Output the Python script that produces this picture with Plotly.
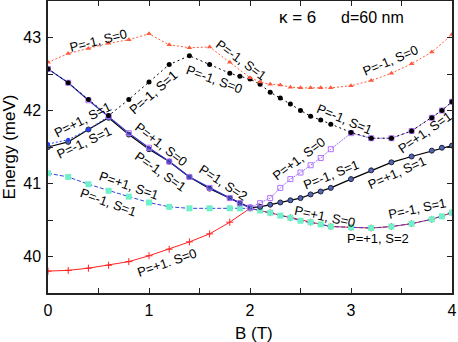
import plotly.graph_objects as go

# B field (T) and energies (meV)
x_red_top = [0, 0.2, 0.4, 0.6, 0.8, 1.0, 1.2, 1.4, 1.6, 1.8, 2.0, 2.1, 2.2, 2.3, 2.4, 2.5,
             2.6, 2.7, 2.8, 3.0, 3.2, 3.4, 3.6, 3.8, 4.0]
y_red_top = [42.66, 42.78, 42.85, 42.92, 42.97, 43.05, 42.9, 42.86, 42.87, 42.66, 42.45, 42.39,
             42.36, 42.35, 42.32, 42.31, 42.31, 42.31, 42.31, 42.34, 42.41, 42.51, 42.64, 42.8, 43.04]

x_fine = [0, 0.2, 0.4, 0.6, 0.8, 1.0, 1.2, 1.4, 1.6, 1.8, 1.9, 2.0, 2.1, 2.2, 2.3, 2.4, 2.5,
          2.6, 2.7, 2.8, 3.0, 3.2, 3.4, 3.6, 3.8, 3.9, 4.0]
y_black_dot = [42.57, 42.38, 42.15, 41.93, 42.15, 42.39, 42.63, 42.75, 42.63, 42.51, 42.47, 42.43,
               42.36, 42.25, 42.17, 42.09, 42.0, 41.92, 41.87, 41.81, 41.7, 41.62, 41.62, 41.72,
               41.9, 42.0, 42.12]
y_black_solid = [41.5, 41.57, 41.74, 41.9, 41.67, 41.47, 41.3, 41.09, 40.93, 40.8, 40.73, 40.67,
                 40.68, 40.71, 40.74, 40.77, 40.8, 40.85, 40.89, 40.94, 41.06, 41.18, 41.29, 41.37,
                 41.45, 41.49, 41.52]
y_cyan = [41.14, 41.09, 40.99, 40.9, 40.82, 40.74, 40.68, 40.66, 40.66, 40.66, 40.66, 40.66,
          40.63, 40.6, 40.56, 40.53, 40.49, 40.47, 40.44, 40.41, 40.4, 40.39, 40.41, 40.45,
          40.51, 40.55, 40.6]

x_blue = [0, 0.2, 0.4, 0.6, 0.8, 1.0, 1.2, 1.4, 1.6, 1.8, 1.9, 2.0]
y_blue = [42.57, 42.38, 42.14, 41.92, 41.69, 41.49, 41.3, 41.09, 40.94, 40.8, 40.73, 40.67]

x_purple = [2.0, 2.1, 2.2, 2.3, 2.4, 2.5, 2.6, 2.7, 2.8, 3.0, 3.2, 3.4, 3.6, 3.8, 3.9, 4.0]
y_purple = [40.67, 40.73, 40.8, 40.94, 41.06, 41.15, 41.25, 41.35, 41.47, 41.69, 41.62, 41.62,
            41.72, 41.9, 42.0, 42.12]

x_blue_short = [0, 0.2, 0.4, 0.6]
y_blue_short = [41.54, 41.6, 41.74, 41.92]

x_red_low = [0, 0.2, 0.4, 0.6, 0.8, 1.0, 1.2, 1.4, 1.6, 1.8, 2.0, 2.2, 2.4, 2.6, 2.8, 3.0,
             3.2, 3.4, 3.6, 3.8, 4.0]
y_red_low = [39.8, 39.81, 39.84, 39.88, 39.93, 40.01, 40.1, 40.2, 40.31, 40.47, 40.66, 40.6,
             40.53, 40.47, 40.41, 40.4, 40.39, 40.41, 40.45, 40.51, 40.6]

# curve labels: text, B, E, angle
labels = [
    ("P=-1, S=0", 0.50, 42.96, -14),
    ("P=-1, S=1", 1.04, 42.25, -41),
    ("P=-1, S=0", 1.65, 42.42, 20),
    ("P=-1, S=1", 1.92, 42.69, 36),
    ("P=+1, S=1", 0.35, 41.87, -27),
    ("P=-1, S=1", 0.36, 41.56, -25),
    ("P=+1, S=0", 1.12, 41.53, 38),
    ("P=-1, S=1", 1.11, 41.16, 35),
    ("P=+1, S=1", 0.80, 40.97, 19),
    ("P=-1, S=1", 0.60, 40.74, 20),
    ("P=1, S=2", 1.73, 41.01, 33),
    ("P=+1, S=0", 2.49, 41.34, -37),
    ("P=-1, S=1", 2.81, 41.12, -22),
    ("P=+1, S=1", 3.46, 41.15, -24),
    ("P=+1, S=1", 3.73, 41.70, -35),
    ("P=-1, S=1", 2.94, 41.87, 23),
    ("P=-1, S=1", 3.66, 40.66, -12),
    ("P=+1, S=0", 2.74, 40.55, 12),
    ("P=+1, S=2", 3.27, 40.25, 0),
    ("P=-1, S=0", 3.39, 42.69, -23),
    ("P=+1. S=0", 1.18, 39.92, -19),
]

fig = go.Figure()

# lower red curve
fig.add_trace(go.Scatter(x=x_red_low, y=y_red_low, mode='lines+markers',
                         line=dict(color='#ff2020', width=1),
                         marker=dict(symbol='cross-thin', size=5, line=dict(color='#ff2020', width=1))))
# cyan squares on blue dashed line
fig.add_trace(go.Scatter(x=x_fine, y=y_cyan, mode='lines+markers',
                         line=dict(color='#3040e0', width=1, dash='4px,2px'),
                         marker=dict(symbol='square', size=6, color='#6ff0c8')))
# black solid with blue circles
fig.add_trace(go.Scatter(x=x_fine, y=y_black_solid, mode='lines+markers',
                         line=dict(color='black', width=1.2),
                         marker=dict(symbol='circle', size=5, color='#5068b0',
                                     line=dict(color='#202040', width=1))))
fig.add_trace(go.Scatter(x=x_blue_short, y=y_blue_short, mode='lines+markers',
                         line=dict(color='#2040ff', width=1, dash='2px,2px'),
                         marker=dict(symbol='circle', size=4, color='#2040ff')))
# blue line with purple squares, then purple dotted
fig.add_trace(go.Scatter(x=x_blue, y=y_blue, mode='lines+markers',
                         line=dict(color='#3030c0', width=1.2),
                         marker=dict(symbol='square-open', size=5, color='#b070ff',
                                     line=dict(width=1))))
fig.add_trace(go.Scatter(x=x_purple, y=y_purple, mode='lines+markers',
                         line=dict(color='#9a70ff', width=1, dash='2px,1px'),
                         marker=dict(symbol='square-open', size=5, color='#b070ff',
                                     line=dict(width=1))))
# black dotted with dots
fig.add_trace(go.Scatter(x=x_fine, y=y_black_dot, mode='lines+markers',
                         line=dict(color='black', width=1, dash='2px,3px'),
                         marker=dict(symbol='circle', size=5, color='black')))
# upper red dotted with triangles
fig.add_trace(go.Scatter(x=x_red_top, y=y_red_top, mode='lines+markers',
                         line=dict(color='#ff5a3c', width=1, dash='2px,2px'),
                         marker=dict(symbol='triangle-up', size=5, color='#ff5a3c')))

for txt, bx, en, ang in labels:
    fig.add_annotation(x=bx, y=en, text=txt, textangle=ang, showarrow=False,
                       font=dict(size=13, color='black'))

fig.add_annotation(x=2.475, y=43.27, text='κ = 6', showarrow=False, font=dict(size=17, color='black'))
fig.add_annotation(x=3.21, y=43.27, text='d=60 nm', showarrow=False, font=dict(size=16, color='black'))

# x axis title as an annotation so it sits a little lower
fig.add_annotation(x=0.51, y=-0.139, xref='paper', yref='paper', xanchor='center', yanchor='middle',
                   text='B (T)', showarrow=False, font=dict(size=17, color='black'))

axis_style = dict(showline=True, linecolor='#222222', linewidth=1.5, mirror='allticks',
                  ticks='inside', ticklen=5, tickwidth=1, tickcolor='#222222',
                  showgrid=False, zeroline=False, automargin=False,
                  tickfont=dict(size=16, color='black'),
                  minor=dict(ticks='inside', ticklen=5, tickwidth=1, tickcolor='#222222',
                             dtick=0.5, showgrid=False))

fig.update_xaxes(range=[0, 4], dtick=1, ticklabelstandoff=2, **axis_style)
fig.update_yaxes(range=[39.5, 43.5], dtick=1, ticklabelstandoff=2,
                 title=dict(text='Energy (meV)', font=dict(size=17, color='black')), **axis_style)

fig.update_layout(width=458, height=342, showlegend=False,
                  margin=dict(l=48, r=6, t=1, b=49),
                  plot_bgcolor='white', paper_bgcolor='white',
                  font=dict(family='Liberation Sans, Arial, sans-serif', color='black'))

# page body has a default margin; drop it so the figure sits at the window corner
fig.write_html('out.html', config={'displayModeBar': False},
               post_script="document.body.style.margin='0';")
